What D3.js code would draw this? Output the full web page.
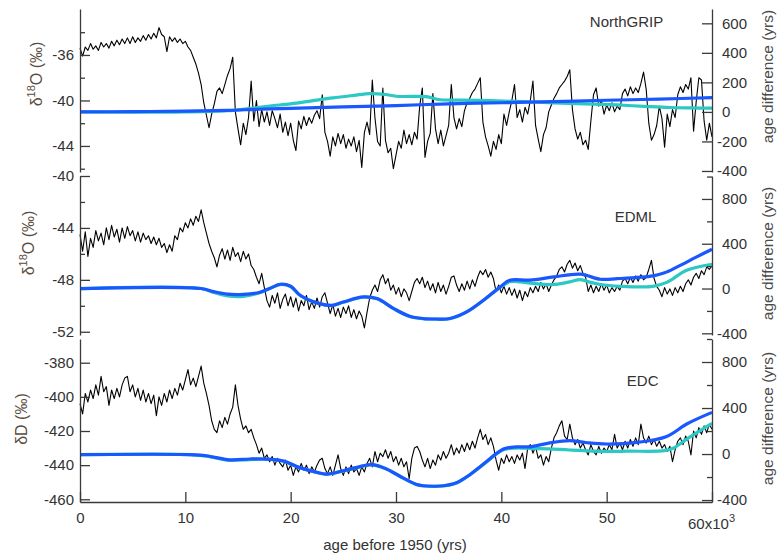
<!DOCTYPE html>
<html><head><meta charset="utf-8">
<script src="https://cdn.jsdelivr.net/npm/d3@7"></script>
<style>
html,body{margin:0;padding:0;background:#fff;}
svg{display:block;font-family:"Liberation Sans",Arial,Helvetica,sans-serif;}
</style></head><body>
<svg id="chart" width="777" height="558"></svg>
<script>
// ---------------- DATA ----------------
const sampleStepKyr = 0.25; // isotope records sampled every 0.25 kyr, 0..60 kyr

const ngripD18O = [
-35.4,-36.1,-35.3,-35.6,-35.0,-35.5,-35.2,-35.6,
-34.9,-35.3,-35.0,-35.4,-34.8,-35.2,-34.7,-35.1,
-34.6,-35.0,-34.5,-35.0,-34.4,-34.9,-34.5,-34.8,
-34.3,-34.7,-34.2,-34.6,-34.1,-34.5,-33.6,-34.2,
-34.4,-35.7,-34.4,-34.8,-34.5,-34.9,-34.6,-35.0,
-34.8,-35.3,-35.6,-36.2,-36.8,-37.6,-38.6,-40.2,
-41.3,-42.4,-41.2,-40.3,-39.2,-38.9,-39.4,-38.6,
-37.8,-37.2,-36.2,-41.0,-42.5,-43.9,-42.0,-43.0,
-41.5,-38.3,-41.8,-40.0,-42.3,-40.8,-41.9,-41.0,
-42.2,-40.9,-41.6,-42.4,-41.2,-42.8,-41.9,-43.1,
-42.0,-43.5,-44.4,-41.8,-42.5,-41.4,-42.2,-41.5,
-42.0,-41.3,-40.9,-41.6,-39.5,-42.8,-43.6,-44.9,
-43.2,-44.0,-42.9,-43.8,-43.0,-44.2,-43.4,-44.0,
-43.2,-44.5,-43.5,-45.9,-42.8,-41.9,-43.0,-38.2,
-41.5,-43.6,-44.0,-38.9,-43.5,-44.6,-44.2,-46.0,
-44.8,-43.6,-44.2,-42.6,-43.8,-43.0,-43.9,-42.8,
-43.4,-40.5,-38.9,-45.0,-43.6,-42.9,-39.4,-42.5,
-43.8,-42.6,-44.0,-43.1,-42.2,-38.6,-41.5,-42.5,
-41.6,-42.3,-40.9,-40.2,-39.8,-39.3,-39.0,-38.5,
-38.0,-41.9,-43.2,-44.0,-44.9,-43.6,-44.3,-43.0,
-43.8,-41.2,-42.2,-41.0,-40.0,-38.6,-41.5,-40.8,
-41.9,-40.6,-41.2,-40.0,-38.3,-42.2,-43.4,-44.5,
-43.0,-42.4,-41.0,-40.4,-39.8,-39.4,-38.9,-38.6,
-38.3,-37.9,-37.3,-40.8,-42.5,-43.4,-42.8,-43.9,
-43.5,-44.3,-41.8,-39.5,-38.9,-40.5,-40.0,-41.2,
-40.4,-40.9,-40.2,-41.0,-40.5,-40.8,-39.4,-39.0,
-39.6,-38.8,-39.4,-38.9,-39.3,-38.5,-37.5,-39.0,
-42.0,-43.5,-43.0,-42.2,-40.5,-41.6,-44.1,-41.2,
-42.3,-40.8,-41.5,-39.5,-38.8,-39.3,-38.6,-39.0,
-38.0,-42.7,-40.1,-38.0,-38.2,-41.8,-43.5,-42.0,
-43.2];

const edmlD18O = [
-44.5,-45.8,-44.3,-46.2,-44.8,-45.5,-44.2,-45.0,
-44.4,-45.3,-44.0,-44.9,-43.8,-44.7,-44.1,-45.1,
-44.0,-44.8,-43.9,-44.6,-44.2,-45.0,-44.3,-45.1,
-44.4,-44.9,-44.6,-45.2,-44.7,-45.3,-44.8,-45.5,
-45.2,-45.9,-45.3,-45.8,-44.6,-44.9,-44.0,-44.3,
-43.6,-44.0,-43.3,-43.8,-43.1,-43.5,-42.6,-43.6,
-44.4,-45.2,-45.8,-46.3,-47.0,-46.1,-45.6,-46.4,
-45.7,-46.5,-45.5,-46.2,-45.9,-46.6,-45.8,-46.4,
-46.0,-46.9,-47.2,-47.8,-48.3,-47.5,-48.6,-49.6,
-50.1,-49.2,-49.8,-49.0,-50.2,-49.5,-49.1,-50.0,
-49.3,-50.1,-49.4,-50.4,-49.6,-50.0,-49.2,-50.3,
-49.7,-50.2,-49.4,-50.1,-49.3,-49.0,-49.8,-50.6,
-49.9,-50.8,-50.2,-50.9,-50.1,-50.6,-50.0,-50.9,
-50.3,-51.0,-50.4,-50.8,-51.7,-50.5,-49.4,-48.8,
-48.4,-48.9,-48.0,-47.6,-48.3,-47.9,-48.8,-48.4,
-49.1,-48.6,-49.3,-48.7,-49.0,-49.6,-48.9,-48.2,
-47.9,-48.3,-47.8,-48.6,-48.1,-48.8,-48.3,-49.0,
-48.2,-48.9,-48.4,-49.1,-48.5,-47.8,-47.7,-48.4,
-48.9,-48.3,-48.8,-48.1,-48.7,-48.0,-48.5,-47.8,
-47.3,-47.6,-47.2,-47.8,-47.4,-47.9,-48.9,-48.4,
-49.0,-48.5,-49.1,-48.6,-49.2,-48.7,-49.4,-48.8,
-49.6,-48.9,-49.3,-48.6,-49.0,-48.5,-48.9,-48.2,
-48.7,-48.3,-48.9,-48.4,-48.0,-47.7,-47.2,-47.0,
-47.4,-46.8,-46.5,-47.1,-46.7,-47.3,-46.9,-47.5,
-47.8,-48.9,-48.4,-49.0,-48.5,-48.9,-48.3,-48.8,
-48.4,-49.0,-48.6,-48.9,-48.5,-48.8,-48.1,-47.9,
-48.3,-47.8,-48.2,-47.7,-48.1,-47.6,-48.0,-47.8,
-47.2,-46.5,-47.9,-48.5,-48.8,-49.3,-48.6,-49.1,
-48.7,-49.2,-48.6,-49.0,-48.5,-48.9,-48.3,-48.0,
-48.4,-47.8,-47.5,-47.9,-47.3,-47.6,-47.0,-47.2,
-46.9];

const edcDeltaD = [
-404,-410,-398,-403,-396,-401,-393,-399,
-388,-397,-394,-405,-396,-401,-395,-400,
-393,-389,-388,-397,-393,-400,-395,-402,
-396,-403,-398,-404,-399,-411,-400,-405,
-398,-403,-396,-401,-395,-399,-392,-396,
-390,-384,-393,-389,-394,-388,-382,-392,
-398,-405,-414,-419,-421,-414,-418,-412,
-416,-410,-406,-393,-405,-413,-419,-417,
-421,-419,-424,-428,-433,-430,-436,-434,
-438,-435,-440,-436,-439,-441,-437,-443,
-440,-446,-441,-444,-439,-443,-440,-445,
-441,-444,-440,-437,-436,-442,-445,-441,
-446,-440,-434,-442,-446,-441,-445,-440,
-444,-442,-446,-441,-444,-439,-436,-441,
-432,-438,-433,-435,-431,-436,-432,-438,
-435,-440,-436,-441,-438,-448,-436,-430,
-429,-432,-437,-441,-436,-442,-437,-440,
-434,-437,-432,-436,-433,-428,-434,-430,
-433,-428,-432,-427,-431,-426,-430,-424,
-419,-425,-422,-428,-424,-429,-437,-443,
-436,-439,-434,-438,-435,-439,-434,-437,
-433,-442,-430,-428,-433,-429,-436,-434,
-440,-435,-438,-430,-424,-421,-417,-414,
-423,-425,-416,-424,-428,-425,-430,-427,
-431,-434,-428,-432,-434,-429,-433,-430,
-432,-428,-431,-422,-430,-427,-431,-426,
-430,-425,-429,-424,-428,-416,-424,-427,
-423,-428,-425,-429,-426,-430,-428,-432,
-429,-438,-431,-426,-424,-428,-423,-426,
-434,-420,-424,-418,-422,-417,-421,-416,
-419];

// age-difference curves (yrs) : [age kyr, value]
const ngripBlueAges  = [0,5,10,14,17,20,25,30,35,40,42.6,46,50,55,60];
const ngripBlueDiff  = [0,2,5,10,18,24,34,43,55,62,66,72,79,87,97];
const ngripCyanAges  = [0,5,10,14,16,18,20,22,24,26,27.5,29,30,33,34,36,39,42,45,48,51,54,56,58,60];
const ngripCyanDiff  = [0,-2,0,8,22,40,55,75,95,112,124,118,106,102,84,80,76,70,61,55,47,36,30,27,25];

const edmlBlueAges = [0,11.5,12.7,14,15.5,17,18,19,20,20.9,22.5,23.9,25,26.9,28.2,29.8,31.3,32.6,33.8,35.1,36.7,38.3,39.9,40.8,42.7,45,47.5,49.4,51,54.4,55.5,56.7,58.5,60];
const edmlBlueDiff = [0,0,-28,-50,-52,-35,0,38,20,-60,-128,-150,-120,-75,-90,-180,-247,-268,-272,-268,-209,-105,15,74,75,104,128,83,88,113,140,193,280,351];
const edmlCyanAges = [0,11.5,12.7,14,15.5,17,18,19,20,20.9,22.5,23.9,25,26.9,28.2,29.8,31.3,32.6,33.8,35.1,36.7,38.3,39.9,40.8,41.8,43,45,46.5,47.5,48.5,49.4,51.3,54.4,55.7,57.6,60];
const edmlCyanDiff = [0,0,-35,-65,-70,-40,0,35,18,-62,-130,-152,-122,-78,-92,-182,-250,-270,-274,-270,-210,-105,12,60,59,45,36,60,80,55,36,20,20,55,163,217];

const edcBlueAges = [0,10.4,12,14.2,16.1,17.4,19.3,20.8,22.5,23.4,25,27.2,27.8,29,30.3,31.9,32.6,33.6,34.5,35.8,37,38.3,40.2,41.4,42.7,44.5,46.5,48,50,52.9,55.7,57.6,60];
const edcBlueDiff = [-5,-5,-15,-50,-43,-43,-60,-116,-159,-174,-145,-96,-92,-125,-189,-262,-276,-280,-276,-247,-180,-87,43,62,63,95,116,100,87,101,153,261,362];
const edcCyanAges = [0,10.4,12,14.2,16.1,17.4,19.3,20.8,22.5,23.4,25,27.2,27.8,29,30.3,31.9,32.6,33.6,34.5,35.8,37,38.3,40.2,41.4,41.8,43,44.5,46.5,50,52,55.5,56.3,57.6,60];
const edcCyanDiff = [-5,-5,-18,-55,-48,-45,-62,-118,-161,-176,-147,-98,-94,-127,-191,-264,-278,-282,-278,-249,-182,-90,38,52,52,48,45,35,23,25,29,50,130,266];

const xTickValues = [0,10,20,30,40,50,60];
const xTickLabels = ["0","10","20","30","40","50",""];
const panelNames = ["NorthGRIP","EDML","EDC"];

const ngripLeftMajor = [-44,-40,-36];
const ngripLeftMinor = [-46,-42,-38,-34];
const edmlLeftMajor = [-52,-48,-44,-40];
const edmlLeftMinor = [-50,-46,-42];
const edcLeftMajor = [-460,-440,-420,-400,-380];
const ngripRightMajor = [-400,-200,0,200,400,600];
const antRightMajor = [-400,0,400,800];
const antRightMinor = [-200,200,600,1000];

// ---------------- DRAW ----------------
const svg = d3.select("#chart");
const FONT = "\"Liberation Sans\", Arial, Helvetica, sans-serif";
const TXT = "#333";
const AXC = "#3a3a3a";
const BLUE = "#1a57ff";
const CYAN = "#2cc8c4";

const x = d3.scaleLinear().domain([0,60]).range([80,712]);
const isoAges = ngripD18O.map((_,i)=>i*sampleStepKyr);

const panels = [
  {name:panelNames[0], top:9, bottom:172, lDom:[-46.29,-31.96], rDom:[-407,697],
   iso:ngripD18O, lMaj:ngripLeftMajor, lMin:ngripLeftMinor, rMaj:ngripRightMajor, rMin:[],
   blue:[ngripBlueAges,ngripBlueDiff], cyan:[ngripCyanAges,ngripCyanDiff],
   title:"d18O", tX:42, tY:74, rtY:76.5, nX:626.5, nY:27},
  {name:panelNames[1], top:176, bottom:335, lDom:[-52.25,-40], rDom:[-415,1005],
   iso:edmlD18O, lMaj:edmlLeftMajor, lMin:edmlLeftMinor, rMaj:antRightMajor, rMin:antRightMinor,
   blue:[edmlBlueAges,edmlBlueDiff], cyan:[edmlCyanAges,edmlCyanDiff],
   title:"d18O", tX:34, tY:243, rtY:253.5, nX:635.5, nY:222},
  {name:panelNames[2], top:339, bottom:502, lDom:[-461.6,-366.1], rDom:[-417,1000],
   iso:edcDeltaD, lMaj:edcLeftMajor, lMin:[], rMaj:antRightMajor, rMin:antRightMinor,
   blue:[edcBlueAges,edcBlueDiff], cyan:[edcCyanAges,edcCyanDiff],
   title:"dD", tX:27, tY:419, rtY:418.5, nX:642.7, nY:386}
];

function styleAxis(g){
  g.attr("font-family",FONT).attr("font-size",15).attr("color",AXC);
  g.selectAll("path.domain").attr("stroke-width",1.3);
  g.selectAll(".tick line").attr("stroke-width",1.3);
  g.selectAll("text").attr("fill",TXT);
}
const fmt = v => (v<0? "-"+Math.abs(v) : String(v));

panels.forEach(p=>{
  const yL = d3.scaleLinear().domain(p.lDom).range([p.bottom,p.top]);
  const yR = d3.scaleLinear().domain(p.rDom).range([p.bottom,p.top]);

  // isotope record (black)
  const lineIso = d3.line().x((d,i)=>x(isoAges[i])).y(d=>yL(d));
  svg.append("path").datum(p.iso).attr("d",lineIso)
    .attr("fill","none").attr("stroke","#000").attr("stroke-width",1.1).attr("stroke-linejoin","round");

  // age difference curves
  const mk = (ages,vals)=>ages.map((a,i)=>[a,vals[i]]);
  const lineAD = d3.line().x(d=>x(d[0])).y(d=>yR(d[1])).curve(d3.curveCatmullRom.alpha(0.5));
  svg.append("path").datum(mk(p.cyan[0],p.cyan[1])).attr("d",lineAD)
    .attr("fill","none").attr("stroke",CYAN).attr("stroke-width",3.2);
  svg.append("path").datum(mk(p.blue[0],p.blue[1])).attr("d",lineAD)
    .attr("fill","none").attr("stroke",BLUE).attr("stroke-width",3.2);

  // left axis
  const gl = svg.append("g").attr("transform","translate(80,0)")
    .call(d3.axisLeft(yL).tickValues(p.lMaj).tickSize(-10).tickSizeOuter(0).tickPadding(6).tickFormat(fmt));
  styleAxis(gl);
  if(p.lMin.length){
    const glm = svg.append("g").attr("transform","translate(80,0)")
      .call(d3.axisLeft(yL).tickValues(p.lMin).tickSize(-5).tickSizeOuter(0).tickFormat(""));
    styleAxis(glm); glm.select("path.domain").remove();
  }
  // right axis
  const gr = svg.append("g").attr("transform","translate(712,0)")
    .call(d3.axisRight(yR).tickValues(p.rMaj).tickSize(-10).tickSizeOuter(0).tickPadding(10).tickFormat(fmt));
  styleAxis(gr);
  gr.selectAll(".tick text").attr("dx",d=>d<0?"-0.33em":0);
  if(p.rMin.length){
    const grm = svg.append("g").attr("transform","translate(712,0)")
      .call(d3.axisRight(yR).tickValues(p.rMin).tickSize(-5).tickSizeOuter(0).tickFormat(""));
    styleAxis(grm); grm.select("path.domain").remove();
  }

  // left title
  const lt = svg.append("text").attr("transform",`translate(${p.tX},${p.tY}) rotate(-90)`)
    .attr("text-anchor","middle").attr("font-family",FONT).attr("font-size",16).attr("fill","#5a4c40");
  if(p.title==="d18O"){
    lt.append("tspan").text("δ");
    lt.append("tspan").attr("font-size",11).attr("dy",-7).text("18");
    lt.append("tspan").attr("dy",7).text("O (‰)");
  } else {
    lt.append("tspan").text("δD (‰)");
  }
  // right title
  svg.append("text").attr("transform",`translate(773,${p.rtY}) rotate(-90)`)
    .attr("text-anchor","middle").attr("font-family",FONT).attr("font-size",15.5).attr("fill","#4a4a4a")
    .text("age difference (yrs)");
  // panel name
  svg.append("text").attr("x",p.nX).attr("y",p.nY).attr("text-anchor","middle")
    .attr("font-family",FONT).attr("font-size",15).attr("fill",TXT).text(p.name);
});

// x axis
const gx = svg.append("g").attr("transform","translate(0,502)")
  .call(d3.axisBottom(x).tickValues(xTickValues).tickSize(-10).tickSizeOuter(0).tickPadding(10)
    .tickFormat((d,i)=>xTickLabels[i]));
styleAxis(gx);
const lab60 = svg.append("text").attr("x",688).attr("y",529).attr("font-family",FONT)
  .attr("font-size",15).attr("fill",TXT);
lab60.append("tspan").text("60x10");
lab60.append("tspan").attr("font-size",11).attr("dy",-7).text("3");

svg.append("text").attr("x",395).attr("y",550).attr("text-anchor","middle")
  .attr("font-family",FONT).attr("font-size",15).attr("fill",TXT).text("age before 1950 (yrs)");
</script>
</body></html>
